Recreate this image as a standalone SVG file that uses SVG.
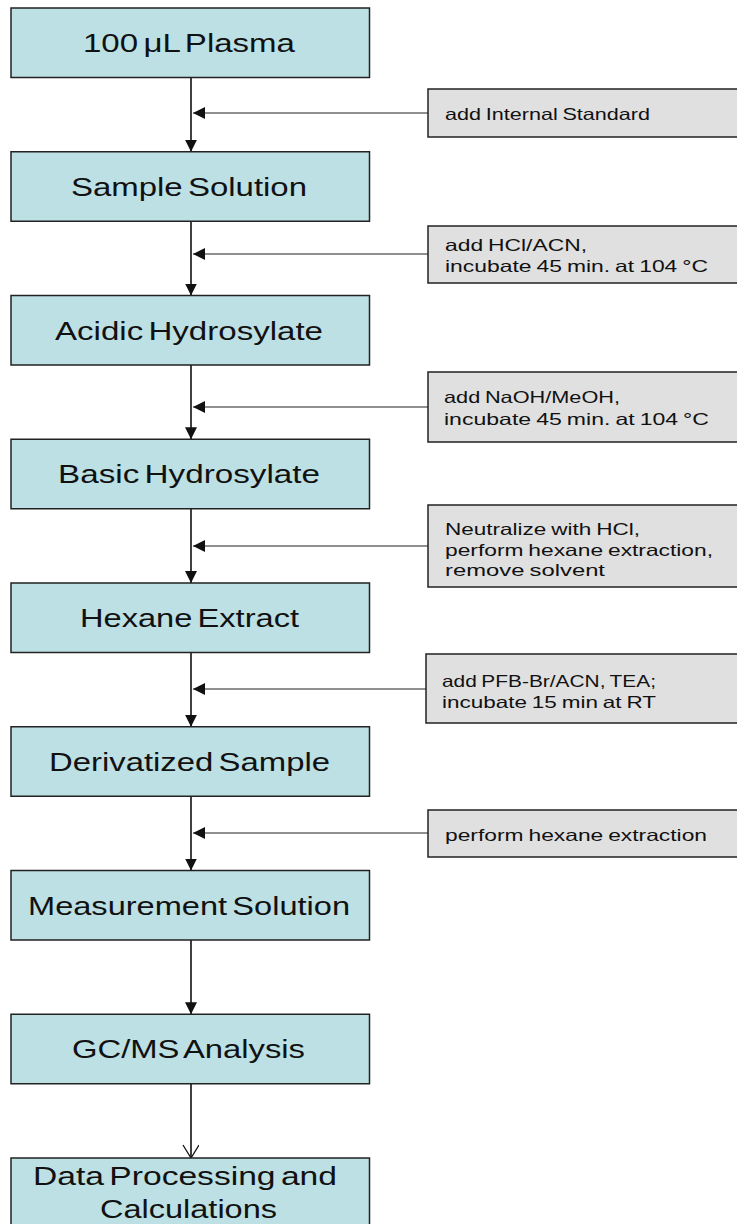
<svg xmlns="http://www.w3.org/2000/svg" width="737" height="1224" viewBox="0 0 737 1224">
<style>
.main rect{fill:#bce0e4;stroke:#222;stroke-width:1.5}
.side rect{fill:#e0e0e0;stroke:#222;stroke-width:1.5}
.main text{font-family:"Liberation Sans",Arial,sans-serif;font-size:25.5px;fill:#111;word-spacing:-3px}
.side text{font-family:"Liberation Sans",Arial,sans-serif;font-size:16.5px;fill:#111;word-spacing:-1px}
.v{stroke:#111;stroke-width:1.6;fill:none}
.h{stroke:#222;stroke-width:1.2;fill:none}
</style>
<defs>
<marker id="ah" markerWidth="12" markerHeight="12" refX="12" refY="6" orient="auto" markerUnits="userSpaceOnUse"><path d="M0,0 L12,6 L0,12 z" fill="#111"/></marker>
<marker id="oh" markerWidth="16" markerHeight="18" refX="14" refY="8" orient="auto" markerUnits="userSpaceOnUse"><path d="M1,0 L14,8 L1,16" fill="none" stroke="#111" stroke-width="1.3"/></marker>
</defs>
<rect width="737" height="1224" fill="#fff"/>
<g id="connectors">
<line class="v" x1="191" y1="77.5" x2="191" y2="151.75" marker-end="url(#ah)"/>
<line class="v" x1="191" y1="221.25" x2="191" y2="295.5" marker-end="url(#ah)"/>
<line class="v" x1="191" y1="365" x2="191" y2="439.25" marker-end="url(#ah)"/>
<line class="v" x1="191" y1="508.75" x2="191" y2="583" marker-end="url(#ah)"/>
<line class="v" x1="191" y1="652.5" x2="191" y2="726.75" marker-end="url(#ah)"/>
<line class="v" x1="191" y1="796.25" x2="191" y2="870.5" marker-end="url(#ah)"/>
<line class="v" x1="191" y1="940" x2="191" y2="1014.25" marker-end="url(#ah)"/>
<line class="v" x1="191" y1="1083.75" x2="191" y2="1158" marker-end="url(#oh)"/>
<line class="h" x1="428" y1="113" x2="193" y2="113" marker-end="url(#ah)"/>
<line class="h" x1="428" y1="254" x2="193" y2="254" marker-end="url(#ah)"/>
<line class="h" x1="428" y1="407" x2="193" y2="407" marker-end="url(#ah)"/>
<line class="h" x1="428" y1="546" x2="193" y2="546" marker-end="url(#ah)"/>
<line class="h" x1="426" y1="689" x2="193" y2="689" marker-end="url(#ah)"/>
<line class="h" x1="428" y1="833" x2="193" y2="833" marker-end="url(#ah)"/>
</g>
<g id="n1" class="main"><rect x="11" y="8" width="358.5" height="69.5"/><text x="83" y="52" textLength="212" lengthAdjust="spacingAndGlyphs">100 μL Plasma</text></g>
<g id="n2" class="main"><rect x="11" y="151.75" width="358.5" height="69.5"/><text x="71" y="195.5" textLength="236" lengthAdjust="spacingAndGlyphs">Sample Solution</text></g>
<g id="n3" class="main"><rect x="11" y="295.5" width="358.5" height="69.5"/><text x="55" y="339.5" textLength="268" lengthAdjust="spacingAndGlyphs">Acidic Hydrosylate</text></g>
<g id="n4" class="main"><rect x="11" y="439.25" width="358.5" height="69.5"/><text x="58" y="483.25" textLength="262" lengthAdjust="spacingAndGlyphs">Basic Hydrosylate</text></g>
<g id="n5" class="main"><rect x="11" y="583" width="358.5" height="69.5"/><text x="80" y="627" textLength="219" lengthAdjust="spacingAndGlyphs">Hexane Extract</text></g>
<g id="n6" class="main"><rect x="11" y="726.75" width="358.5" height="69.5"/><text x="49" y="770.75" textLength="281" lengthAdjust="spacingAndGlyphs">Derivatized Sample</text></g>
<g id="n7" class="main"><rect x="11" y="870.5" width="358.5" height="69.5"/><text x="28" y="914.5" textLength="322" lengthAdjust="spacingAndGlyphs">Measurement Solution</text></g>
<g id="n8" class="main"><rect x="11" y="1014.25" width="358.5" height="69.5"/><text x="72" y="1058.25" textLength="233" lengthAdjust="spacingAndGlyphs">GC/MS Analysis</text></g>
<g id="n9" class="main"><rect x="11" y="1158" width="358.5" height="90"/><text x="33" y="1185" textLength="304" lengthAdjust="spacingAndGlyphs">Data Processing and</text><text x="100" y="1218" textLength="177" lengthAdjust="spacingAndGlyphs">Calculations</text></g>
<g id="s1" class="side"><rect x="428" y="89" width="320" height="48"/><text x="445" y="120" textLength="205" lengthAdjust="spacingAndGlyphs">add Internal Standard</text></g>
<g id="s2" class="side"><rect x="428" y="226" width="320" height="57"/><text x="445" y="251" textLength="142" lengthAdjust="spacingAndGlyphs">add HCl/ACN,</text><text x="445" y="272" textLength="263" lengthAdjust="spacingAndGlyphs">incubate 45 min. at 104 °C</text></g>
<g id="s3" class="side"><rect x="428" y="372" width="320" height="70"/><text x="444" y="403" textLength="176" lengthAdjust="spacingAndGlyphs">add NaOH/MeOH,</text><text x="444" y="425" textLength="265" lengthAdjust="spacingAndGlyphs">incubate 45 min. at 104 °C</text></g>
<g id="s4" class="side"><rect x="428" y="505" width="320" height="82"/><text x="445" y="535" textLength="195" lengthAdjust="spacingAndGlyphs">Neutralize with HCl,</text><text x="445" y="555.5" textLength="268" lengthAdjust="spacingAndGlyphs">perform hexane extraction,</text><text x="445" y="576" textLength="160" lengthAdjust="spacingAndGlyphs">remove solvent</text></g>
<g id="s5" class="side"><rect x="426" y="654" width="320" height="69"/><text x="442" y="687" textLength="214" lengthAdjust="spacingAndGlyphs">add PFB-Br/ACN, TEA;</text><text x="442" y="708" textLength="214" lengthAdjust="spacingAndGlyphs">incubate 15 min at RT</text></g>
<g id="s6" class="side"><rect x="428" y="810" width="320" height="47"/><text x="445" y="841" textLength="262" lengthAdjust="spacingAndGlyphs">perform hexane extraction</text></g>
</svg>
